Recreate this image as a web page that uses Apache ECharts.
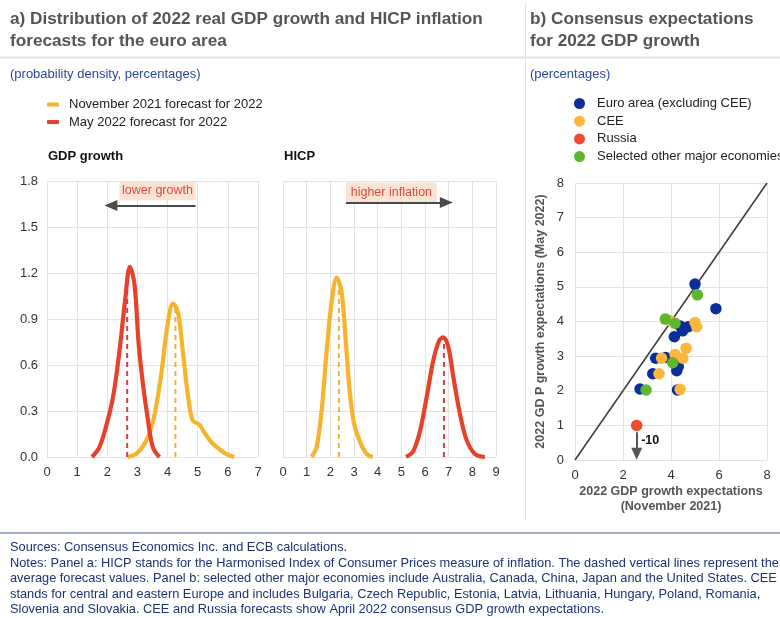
<!DOCTYPE html>
<html>
<head>
<meta charset="utf-8">
<script src="https://cdn.jsdelivr.net/npm/echarts@6/dist/echarts.min.js"></script>
<style>
  html, body { margin: 0; padding: 0; background: #ffffff; }
  #chart { width: 780px; height: 618px; }
</style>
</head>
<body>
<div id="chart"></div>
<script>
// ---- Panel a: probability densities (x = percent, y = density) ----
const gdpNov2021 = [[2.68,0],[3.01,0.03],[3.35,0.13],[3.57,0.28],[3.79,0.54],[3.99,0.85],[4.18,1.0],[4.34,0.95],[4.5,0.7],[4.67,0.41],[4.83,0.24],[5.06,0.21],[5.22,0.16],[5.44,0.1],[5.72,0.05],[5.94,0.02],[6.21,0]];
const gdpMay2022 = [[1.49,0],[1.74,0.065],[1.96,0.2],[2.19,0.39],[2.41,0.7],[2.59,1.02],[2.75,1.24],[2.9,1.13],[3.04,0.74],[3.18,0.48],[3.35,0.24],[3.51,0.065],[3.73,0]];
const hicpNov2021 = [[1.21,0],[1.42,0.065],[1.63,0.3],[1.85,0.7],[2.06,1.02],[2.27,1.17],[2.48,1.07],[2.66,0.74],[2.83,0.41],[3.0,0.22],[3.25,0.1],[3.53,0.02],[3.79,0]];
const hicpMay2022 = [[5.2,0],[5.51,0.04],[5.79,0.17],[6.07,0.39],[6.35,0.63],[6.6,0.76],[6.77,0.78],[6.98,0.72],[7.2,0.52],[7.48,0.28],[7.76,0.11],[8.11,0.02],[8.53,0]];
// average forecast values (dashed vertical lines)
const gdpMeanNov2021 = 4.26;
const gdpMeanMay2022 = 2.66;
const hicpMeanNov2021 = 2.36;
const hicpMeanMay2022 = 6.8;

const densityTicks = ['0.0','0.3','0.6','0.9','1.2','1.5','1.8'];

// ---- Panel b: consensus expectations [November 2021, May 2022] ----
const euroArea = [[5.0,5.08],[5.87,4.37],[4.38,3.87],[4.48,3.73],[4.72,3.85],[4.14,3.56],[3.36,2.94],[3.78,2.96],[4.3,2.7],[4.24,2.58],[3.24,2.49],[2.71,2.05],[4.27,2.02]];
const cee = [[3.95,4.03],[5.0,3.97],[5.07,3.85],[4.63,3.23],[4.17,3.05],[4.49,2.94],[3.61,2.94],[3.5,2.49],[4.38,2.04]];
const russia = [[2.57,-10]];
const otherMajor = [[5.1,4.77],[3.76,4.07],[4.17,3.95],[4.07,2.81],[2.96,2.02]];
// values below this level are drawn at the level, with a downward arrow and their value
const russiaFloor = 1;

const NAME_NOV = 'November 2021 forecast for 2022';
const NAME_MAY = 'May 2022 forecast for 2022';
const NAME_EA = 'Euro area (excluding CEE)';
const NAME_CEE = 'CEE';
const NAME_RU = 'Russia';
const NAME_OTH = 'Selected other major economies';

const COL_ORANGE = '#f7b32b';
const COL_RED = '#e8412b';
const COL_DASH_ORANGE = '#eeb13c';
const COL_DASH_RED = '#d93a48';
const COL_BLUE = '#0a2f9c';
const COL_SC_ORANGE = '#fdb53a';
const COL_SC_RED = '#ee4a2e';
const COL_GREEN = '#5db62c';

const FONT = 'Liberation Sans, Arial, Helvetica, sans-serif';

// height of a density curve at x (linear between points), used to end the dashed lines
function heightAt(curve, x) {
  for (let i = 1; i < curve.length; i++) {
    const a = curve[i - 1], b = curve[i];
    if (x >= a[0] && x <= b[0]) return a[1] + (b[1] - a[1]) * (x - a[0]) / (b[0] - a[0]);
  }
  return 0;
}
function meanLine(curve, x) { return [[x, 0], [x, heightAt(curve, x)]]; }

const gridLine = { show: true, lineStyle: { color: '#e3e3e3', width: 1 } };
const tickLabel = { color: '#333', fontSize: 13, fontFamily: FONT };

function densityX(idx, max) {
  return {
    type: 'value', gridIndex: idx, min: 0, max: max, interval: 1,
    axisLine: { show: false }, axisTick: { show: false },
    splitLine: gridLine, axisLabel: Object.assign({ margin: 9 }, tickLabel)
  };
}
function densityY(idx, showLabels) {
  return {
    type: 'value', gridIndex: idx, min: 0, max: 1.8, interval: 0.3,
    axisLine: { show: false }, axisTick: { show: false },
    splitLine: gridLine,
    axisLabel: Object.assign({ show: showLabels, margin: 9,
      formatter: v => densityTicks[Math.round(v / 0.3)] }, tickLabel)
  };
}
function curve(name, data, color, xi) {
  return { name: name, type: 'line', xAxisIndex: xi, yAxisIndex: xi, data: data,
    smooth: 0.35, symbol: 'none', lineStyle: { color: color, width: 4.2 },
    itemStyle: { color: color }, z: 3 };
}
function dashed(data, color, xi) {
  return { name: 'mean', type: 'line', xAxisIndex: xi, yAxisIndex: xi, data: data,
    symbol: 'none', silent: true, lineStyle: { color: color, width: 2, type: [5, 4] }, z: 4 };
}
function annotation(xi, box, arrow, text) {
  return { name: 'note', type: 'line', xAxisIndex: xi, yAxisIndex: xi, data: [], silent: true,
    markArea: { silent: true, itemStyle: { color: '#fbe3d4' },
      label: { show: true, position: 'inside', color: '#e2483a', fontSize: 12.5, fontFamily: FONT },
      data: [[{ coord: [box[0], box[2]], name: text }, { coord: [box[1], box[3]] }]] },
    markLine: { silent: true, symbol: ['none', 'triangle'], symbolSize: [11, 13],
      label: { show: false }, lineStyle: { color: '#4a4a4a', width: 2, type: 'solid' },
      data: [[{ coord: [arrow[0], arrow[2]] }, { coord: [arrow[1], arrow[2]] }]] } };
}

function dot(name, data, color, z, floor) {
  return { name: name, type: 'scatter', xAxisIndex: 2, yAxisIndex: 2,
    data: data.map(p => [p[0], floor === undefined ? p[1] : Math.max(p[1], floor)]),
    symbolSize: 11.5, itemStyle: { color: color, opacity: 1 }, z: z };
}

const chart = echarts.init(document.getElementById('chart'), null, { renderer: 'canvas' });

const ruPoint = russia[0];
const ruSeries = dot(NAME_RU, russia, COL_SC_RED, 6, russiaFloor);
// arrow and value for the off-scale observation
ruSeries.markLine = { silent: true, symbol: ['none', 'triangle'], symbolSize: [11, 12],
  lineStyle: { color: '#555', width: 2, type: 'solid' }, label: { show: false },
  data: [[{ coord: [ruPoint[0], russiaFloor - 0.2] }, { coord: [ruPoint[0], 0.18] }]] };
ruSeries.markPoint = { silent: true, symbol: 'circle', symbolSize: 1, itemStyle: { color: 'rgba(0,0,0,0)' },
  label: { show: true, position: 'right', distance: 4, formatter: String(ruPoint[1]),
    color: '#111', fontWeight: 'bold', fontSize: 12.5, fontFamily: FONT },
  data: [{ coord: [ruPoint[0], 0.55] }] };

const option = {
  backgroundColor: '#ffffff',
  animation: false,
  textStyle: { fontFamily: FONT },
  grid: [
    { left: 47, top: 181, width: 211, height: 276 },
    { left: 283, top: 181, width: 213, height: 276 },
    { left: 575, top: 183, width: 192, height: 277 }
  ],
  xAxis: [
    densityX(0, 7),
    densityX(1, 9),
    { type: 'value', gridIndex: 2, min: 0, max: 8, interval: 2,
      axisLine: { show: false }, axisTick: { show: false }, splitLine: gridLine,
      axisLabel: Object.assign({ margin: 9 }, tickLabel),
      name: '2022 GDP growth expectations\n(November 2021)', nameLocation: 'middle', nameGap: 24,
      nameTextStyle: { color: '#555', fontWeight: 'bold', fontSize: 12.5, lineHeight: 15, fontFamily: FONT } }
  ],
  yAxis: [
    densityY(0, true),
    densityY(1, false),
    { type: 'value', gridIndex: 2, min: 0, max: 8, interval: 1,
      axisLine: { show: false }, axisTick: { show: false }, splitLine: gridLine,
      axisLabel: Object.assign({ margin: 11 }, tickLabel),
      name: '2022 GD P growth expectations (May 2022)', nameLocation: 'middle', nameGap: 28, nameRotate: 90,
      nameTextStyle: { color: '#555', fontWeight: 'bold', fontSize: 12.5, fontFamily: FONT } }
  ],
  legend: [
    { data: [NAME_NOV, NAME_MAY], orient: 'vertical', left: 42, top: 93, icon: 'roundRect',
      itemWidth: 12, itemHeight: 4, itemGap: 4.5, selectedMode: false,
      textStyle: { color: '#222', fontSize: 13, fontFamily: FONT, padding: [0, 0, 0, 5] } },
    { data: [NAME_EA, NAME_CEE, NAME_RU, NAME_OTH], orient: 'vertical', left: 569, top: 92, icon: 'circle',
      itemWidth: 11, itemHeight: 11, itemGap: 4.7, selectedMode: false,
      textStyle: { color: '#222', fontSize: 13, fontFamily: FONT, padding: [0, 0, 0, 7] } }
  ],
  series: [
    curve(NAME_NOV, gdpNov2021, COL_ORANGE, 0),
    curve(NAME_MAY, gdpMay2022, COL_RED, 0),
    dashed(meanLine(gdpNov2021, gdpMeanNov2021), COL_DASH_ORANGE, 0),
    dashed(meanLine(gdpMay2022, gdpMeanMay2022), COL_DASH_RED, 0),
    annotation(0, [2.4, 4.93, 1.675, 1.795], [4.93, 2.12, 1.64], 'lower growth'),

    curve(NAME_NOV, hicpNov2021, COL_ORANGE, 1),
    curve(NAME_MAY, hicpMay2022, COL_RED, 1),
    dashed(meanLine(hicpNov2021, hicpMeanNov2021), COL_DASH_ORANGE, 1),
    dashed(meanLine(hicpMay2022, hicpMeanMay2022), COL_DASH_RED, 1),
    annotation(1, [2.66, 6.5, 1.66, 1.79], [2.66, 6.9, 1.66], 'higher inflation'),

    // 45-degree reference line
    { name: 'diagonal', type: 'line', xAxisIndex: 2, yAxisIndex: 2, data: [[0, 0], [8, 8]],
      symbol: 'none', silent: true, lineStyle: { color: '#404040', width: 1.6 }, z: 2 },
    dot(NAME_EA, euroArea, COL_BLUE, 3),
    dot(NAME_CEE, cee, COL_SC_ORANGE, 4),
    dot(NAME_OTH, otherMajor, COL_GREEN, 5),
    ruSeries
  ],
  graphic: [
    // panel headers
    { type: 'text', left: 10, top: 9, style: { text: 'a) Distribution of 2022 real GDP growth and HICP inflation\nforecasts for the euro area',
      fontFamily: FONT, fontWeight: 'bold', fontSize: 17.2, fill: '#555', lineHeight: 21.5 } },
    { type: 'text', left: 530, top: 9, style: { text: 'b) Consensus expectations\nfor 2022 GDP growth',
      fontFamily: FONT, fontWeight: 'bold', fontSize: 17.2, fill: '#555', lineHeight: 21.5 } },
    { type: 'line', shape: { x1: 0, y1: 57.5, x2: 780, y2: 57.5 }, style: { stroke: '#e4e4e4', lineWidth: 2 } },
    { type: 'line', shape: { x1: 525.5, y1: 3, x2: 525.5, y2: 520 }, style: { stroke: '#e2e2e2', lineWidth: 1 } },
    { type: 'text', left: 10, top: 68, style: { text: '(probability density, percentages)', fontFamily: FONT, fontSize: 13, fill: '#2d479c' } },
    { type: 'text', left: 530, top: 68, style: { text: '(percentages)', fontFamily: FONT, fontSize: 13, fill: '#2d479c' } },
    { type: 'text', left: 48, top: 150, style: { text: 'GDP growth', fontFamily: FONT, fontWeight: 'bold', fontSize: 13, fill: '#111' } },
    { type: 'text', left: 284, top: 150, style: { text: 'HICP', fontFamily: FONT, fontWeight: 'bold', fontSize: 13, fill: '#111' } },
    // footer
    { type: 'line', shape: { x1: 0, y1: 533, x2: 780, y2: 533 }, style: { stroke: '#8791b4', lineWidth: 1.5 } },
    { type: 'text', left: 10, top: 540, style: {
      text: 'Sources: Consensus Economics Inc. and ECB calculations.\n' +
            'Notes: Panel a: HICP stands for the Harmonised Index of Consumer Prices measure of inflation. The dashed vertical lines represent the\n' +
            'average forecast values. Panel b: selected other major economies include Australia, Canada, China, Japan and the United States. CEE\n' +
            'stands for central and eastern Europe and includes Bulgaria, Czech Republic, Estonia, Latvia, Lithuania, Hungary, Poland, Romania,\n' +
            'Slovenia and Slovakia. CEE and Russia forecasts show April 2022 consensus GDP growth expectations.',
      fontFamily: FONT, fontSize: 12.8, fill: '#1d3275', lineHeight: 15.5 } }
  ]
};
chart.setOption(option);
</script>
</body>
</html>
